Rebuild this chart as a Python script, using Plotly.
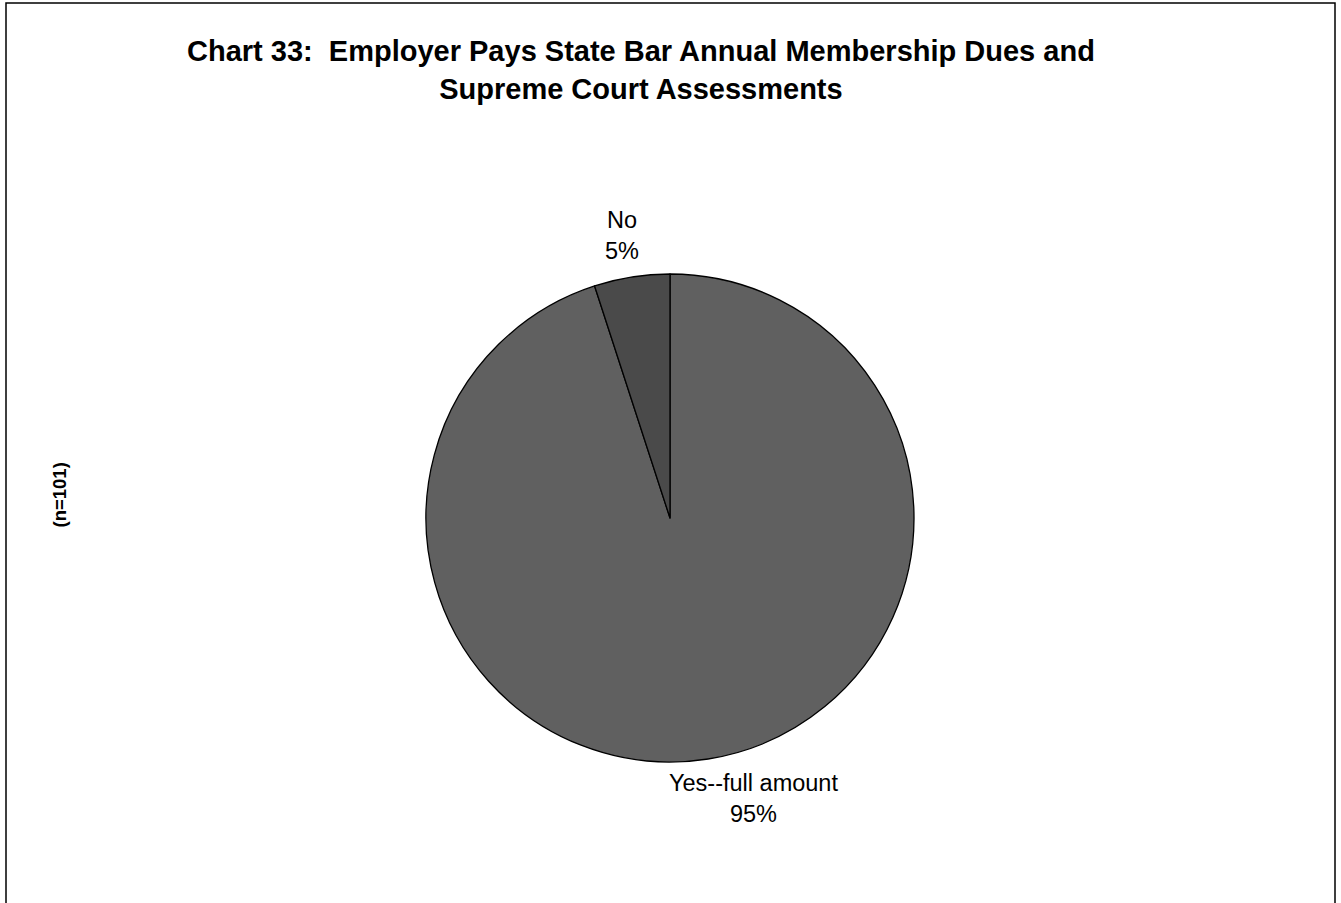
import plotly.graph_objects as go

categories = ["Yes--full amount", "No"]
values = [95, 5]
colors = ["#606060", "#4a4a4a"]
title_lines = ["Chart 33:  Employer Pays State Bar Annual Membership Dues and",
               "Supreme Court Assessments"]
n_label = "(n=101)"

W, H = 1341, 903
cx, cy, r = 670, 518, 244

fig = go.Figure(go.Pie(
    labels=categories, values=values, sort=False, direction="clockwise", rotation=0,
    marker=dict(colors=colors, line=dict(color="black", width=1.3)),
    textinfo="none", hoverinfo="label+percent", showlegend=False,
    domain=dict(x=[(cx - r) / W, (cx + r) / W], y=[1 - (cy + r) / H, 1 - (cy - r) / H]),
))

font = "Liberation Sans, Arial, sans-serif"
label_pos = {"No": (622, 236), "Yes--full amount": (753, 798)}
anns = []
for cat, v in zip(categories, values):
    x, y = label_pos[cat]
    anns.append(dict(text=f"{cat}<br>{v}%", x=x / W, y=1 - y / H, xref="paper", yref="paper",
                     showarrow=False, font=dict(family=font, size=23.5, color="black"),
                     xanchor="center", yanchor="middle"))
anns.append(dict(text="<b>" + "<br>".join(title_lines) + "</b>", x=641 / W, y=1 - 70 / H,
                 xref="paper", yref="paper", showarrow=False,
                 font=dict(family=font, size=29, color="black"), xanchor="center", yanchor="middle"))
anns.append(dict(text="<b>" + n_label + "</b>", x=58.5 / W, y=1 - 495 / H, xref="paper", yref="paper",
                 showarrow=False, textangle=-90, font=dict(family=font, size=18.5, color="black"),
                 xanchor="center", yanchor="middle"))

fig.update_layout(
    width=W, height=H, margin=dict(l=0, r=0, t=0, b=0),
    paper_bgcolor="white", plot_bgcolor="white",
    annotations=anns,
    shapes=[dict(type="rect", xref="paper", yref="paper", x0=6 / W, x1=1335 / W,
                 y0=-0.05, y1=1 - 3 / H, line=dict(color="black", width=1.5))],
)
fig.write_html("out.html", config={"displayModeBar": False},
               post_script="document.body.style.margin='0';")
